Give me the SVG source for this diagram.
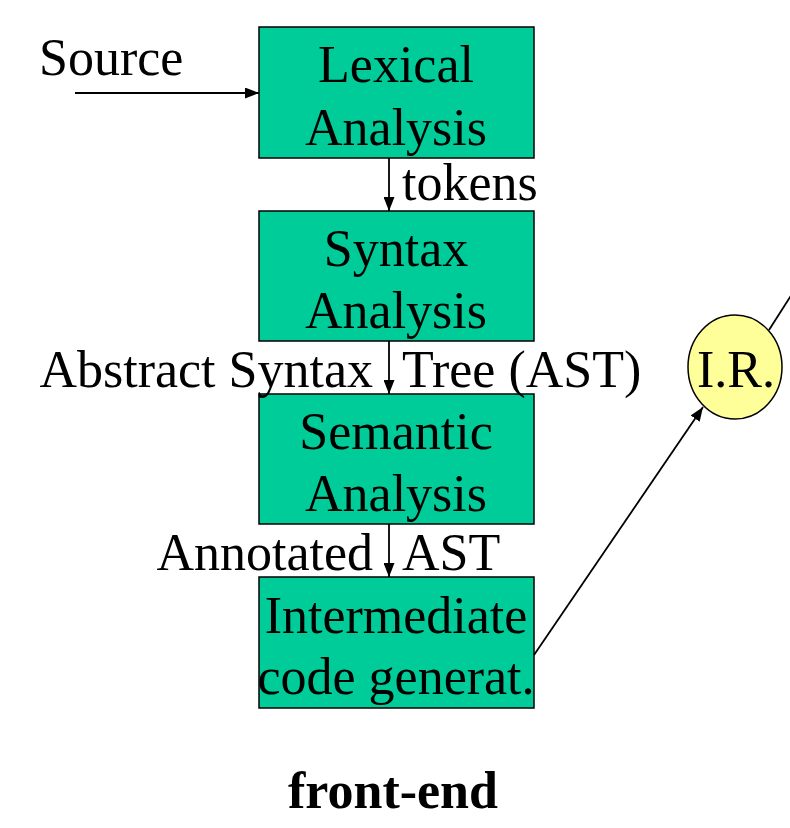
<svg xmlns="http://www.w3.org/2000/svg" width="790" height="828" viewBox="0 0 790 828">
<style>
.box{fill:#00CC99;stroke:#000;stroke-width:1.5}
.t{font-family:"Liberation Serif","Times New Roman",serif;font-size:52px;fill:#000}
.c{text-anchor:middle}
.e{text-anchor:end}
.ln{stroke:#000;stroke-width:1.8;fill:none}
</style>
<defs>
<marker id="ah" viewBox="0 0 14 11" refX="14" refY="5.5" markerWidth="14" markerHeight="11" markerUnits="userSpaceOnUse" orient="auto"><path d="M0,0 L14,5.5 L0,11 z" fill="#000"/></marker>
</defs>
<rect width="790" height="828" fill="#fff"/>
<g id="lexical"><rect class="box" x="259" y="27" width="275" height="131"/><text class="t c" x="396" y="82">Lexical</text><text class="t c" x="396" y="145">Analysis</text></g>
<g id="syntax"><rect class="box" x="259" y="211" width="275" height="130"/><text class="t c" x="396" y="266">Syntax</text><text class="t c" x="396" y="328">Analysis</text></g>
<g id="semantic"><rect class="box" x="259" y="394" width="275" height="130"/><text class="t c" x="396" y="449">Semantic</text><text class="t c" x="396" y="511">Analysis</text></g>
<g id="intermediate"><rect class="box" x="259" y="577" width="275" height="131"/><text class="t c" x="396" y="633">Intermediate</text><text class="t c" x="396" y="694">code generat.</text></g>
<g id="ir"><ellipse cx="735" cy="367" rx="47" ry="52" fill="#FFFF99" stroke="#000" stroke-width="1.5"/><text class="t c" x="736" y="387">I.R.</text></g>
<g id="connectors">
<line class="ln" x1="75" y1="93" x2="259" y2="93" marker-end="url(#ah)"/>
<line class="ln" x1="389" y1="158" x2="389" y2="211" marker-end="url(#ah)"/>
<line class="ln" x1="389" y1="341" x2="389" y2="394" marker-end="url(#ah)"/>
<line class="ln" x1="389" y1="524" x2="389" y2="577" marker-end="url(#ah)"/>
<line class="ln" x1="534" y1="655" x2="703" y2="407" marker-end="url(#ah)"/>
<line class="ln" x1="769" y1="330" x2="792" y2="294"/>
</g>
<g id="labels">
<text class="t" x="39" y="75">Source</text>
<text class="t" x="402" y="200">tokens</text>
<text class="t e" x="373" y="387">Abstract Syntax</text>
<text class="t" x="402" y="387">Tree (AST)</text>
<text class="t e" x="373" y="570">Annotated</text>
<text class="t" x="402" y="570">AST</text>
<text class="t c" x="393" y="808" font-weight="bold">front-end</text>
</g>
</svg>
